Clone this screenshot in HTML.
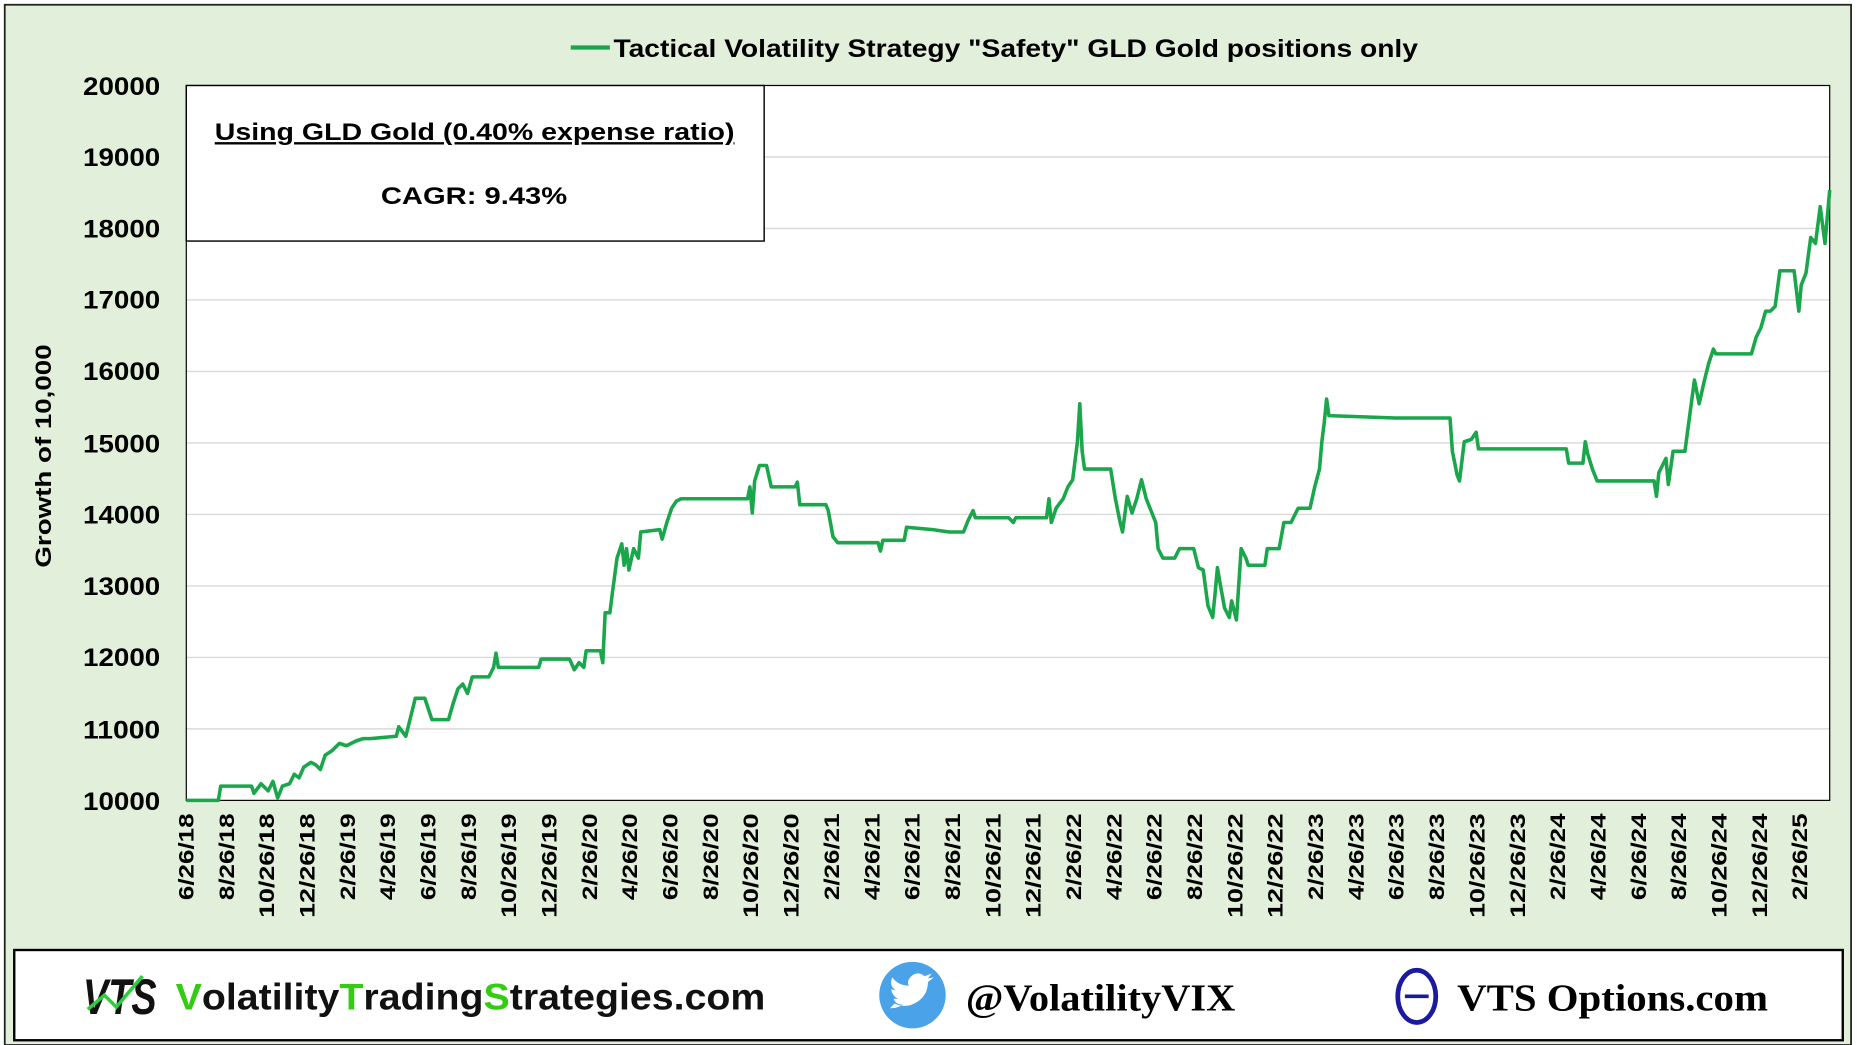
<!DOCTYPE html>
<html><head><meta charset="utf-8"><style>
html,body{margin:0;padding:0;background:#fff}
svg{display:block}
text{font-family:"Liberation Sans",Arial,sans-serif;font-weight:bold}
</style></head><body>
<svg width="1857" height="1045" viewBox="0 0 1565 880" preserveAspectRatio="none" xmlns="http://www.w3.org/2000/svg">
<rect x="0" y="0" width="1565" height="880" fill="#fff"/>
<rect x="4" y="4" width="1556" height="876" fill="#e2efda" stroke="#222" stroke-width="1.5"/>
<rect x="157" y="72" width="1385" height="602" fill="#fff"/>
<g stroke="#d9d9d9" stroke-width="1.2">
<line x1="157" x2="1542" y1="132.2" y2="132.2"/><line x1="157" x2="1542" y1="192.4" y2="192.4"/>
<line x1="157" x2="1542" y1="252.6" y2="252.6"/><line x1="157" x2="1542" y1="312.8" y2="312.8"/>
<line x1="157" x2="1542" y1="373" y2="373"/><line x1="157" x2="1542" y1="433.2" y2="433.2"/>
<line x1="157" x2="1542" y1="493.4" y2="493.4"/><line x1="157" x2="1542" y1="553.6" y2="553.6"/>
<line x1="157" x2="1542" y1="613.8" y2="613.8"/>
</g>
<rect x="157" y="72" width="1385" height="602" fill="none" stroke="#000" stroke-width="1"/>
<g font-size="21" fill="#000">
<text x="70" y="80" textLength="65" lengthAdjust="spacingAndGlyphs">20000</text><text x="70" y="140" textLength="65" lengthAdjust="spacingAndGlyphs">19000</text><text x="70" y="200" textLength="65" lengthAdjust="spacingAndGlyphs">18000</text>
<text x="70" y="260" textLength="65" lengthAdjust="spacingAndGlyphs">17000</text><text x="70" y="320" textLength="65" lengthAdjust="spacingAndGlyphs">16000</text><text x="70" y="381" textLength="65" lengthAdjust="spacingAndGlyphs">15000</text>
<text x="70" y="441" textLength="65" lengthAdjust="spacingAndGlyphs">14000</text><text x="70" y="501" textLength="65" lengthAdjust="spacingAndGlyphs">13000</text><text x="70" y="561" textLength="65" lengthAdjust="spacingAndGlyphs">12000</text>
<text x="70" y="622" textLength="65" lengthAdjust="spacingAndGlyphs">11000</text><text x="70" y="682" textLength="65" lengthAdjust="spacingAndGlyphs">10000</text>
</g>
<text transform="translate(43,478) rotate(-90)" font-size="19" textLength="188" lengthAdjust="spacingAndGlyphs">Growth of 10,000</text>
<polyline fill="none" stroke="#1aa64a" stroke-width="3" stroke-linejoin="round" points="157,674 184,674 186,662 212,662 214,668 220,660 226,666 230,658 234,672 238,662 244,660 248,652 252,655 256,646 262,642 266,644 270,648 274,636 280,632 286,626 292,628 300,624 306,622 312,622 334,620 336,612 342,620 346,604 350,588 358,588 362,600 364,606 378,606 382,592 386,580 390,576 394,584 398,570 412,570 416,562 418,550 420,562 454,562 456,555 480,555 484,564 488,558 492,562 494,548 506,548 508,558 510,516 514,516 516,500 520,470 524,458 526,476 528,462 530,480 534,462 538,470 540,448 556,446 558,454 562,440 566,428 570,422 574,420 630,420 632,410 634,432 636,405 640,392 646,392 650,410 670,410 672,406 674,425 696,425 698,430 702,452 706,457 740,457 742,464 744,455 762,455 764,444 786,446 800,448 812,448 816,438 820,430 822,436 850,436 854,440 856,436 882,436 884,420 886,440 890,428 896,420 900,410 904,404 908,372 910,340 912,380 914,395 936,395 940,420 944,440 946,448 950,418 954,432 958,420 962,404 966,420 970,430 974,440 976,462 980,470 990,470 994,462 1006,462 1010,478 1014,480 1018,510 1022,520 1024,500 1026,478 1028,490 1032,512 1036,520 1038,506 1042,522 1046,462 1050,470 1052,476 1066,476 1068,462 1078,462 1082,440 1088,440 1094,428 1104,428 1108,410 1112,395 1114,372 1116,356 1118,336 1120,350 1176,352 1200,352 1222,352 1224,380 1228,400 1230,405 1234,372 1240,370 1244,364 1246,378 1320,378 1322,390 1334,390 1336,372 1338,382 1342,395 1346,405 1394,405 1396,418 1398,398 1404,386 1406,408 1410,380 1420,380 1424,350 1428,320 1432,340 1436,322 1440,306 1444,294 1446,298 1476,298 1480,284 1484,276 1488,262 1492,262 1496,258 1500,228 1512,228 1516,262 1518,240 1522,230 1526,200 1530,205 1534,174 1538,205 1542,160"/>
<rect x="157" y="72" width="487" height="131" fill="#fff" stroke="#000" stroke-width="1.2"/>
<text x="181" y="118" font-size="20" text-decoration="underline" textLength="438" lengthAdjust="spacingAndGlyphs">Using GLD Gold  (0.40% expense ratio)</text>
<text x="321" y="172" font-size="20" textLength="157" lengthAdjust="spacingAndGlyphs">CAGR:  9.43%</text>
<line x1="481" x2="514" y1="40" y2="40" stroke="#1aa64a" stroke-width="3.5"/>
<text x="517" y="48" font-size="21" textLength="678" lengthAdjust="spacingAndGlyphs">Tactical Volatility Strategy "Safety" GLD Gold positions only</text>
<rect x="12" y="800" width="1541" height="76" fill="#fff" stroke="#000" stroke-width="2"/>
<text x="70" y="854" font-size="42" font-style="italic" fill="#111" textLength="62" lengthAdjust="spacingAndGlyphs">VTS</text>
<polyline points="74,850 88,838 98,848 120,822" fill="none" stroke="#2ecc40" stroke-width="3"/>
<text x="148" y="850" font-size="31" fill="#111" textLength="497" lengthAdjust="spacingAndGlyphs"><tspan fill="#33cc11">V</tspan>olatility<tspan fill="#33cc11">T</tspan>rading<tspan fill="#33cc11">S</tspan>trategies.com</text>
<circle cx="769" cy="838" r="28" fill="#4aa3e8"/>
<path d="M754,845 q10,5 20,-2 q8,-6 8,-16 l5,-4 l-5,1 l3,-4 l-6,2 q-6,-5 -12,1 q-3,4 -1,7 q-9,0 -14,-7 q-3,7 3,11 l-4,-1 q1,6 6,8 l-4,0 q2,5 8,5 q-4,3 -11,3z" fill="#fff"/>
<text x="814" y="851" font-size="32" style="font-family:'Liberation Serif',serif" textLength="227" lengthAdjust="spacingAndGlyphs">@VolatilityVIX</text>
<ellipse cx="1194" cy="839" rx="16" ry="22" fill="none" stroke="#1a1aa0" stroke-width="4"/>
<line x1="1184" x2="1204" y1="839" y2="839" stroke="#1a1aa0" stroke-width="3"/>
<text x="1228" y="851" font-size="32" style="font-family:'Liberation Serif',serif" textLength="262" lengthAdjust="spacingAndGlyphs">VTS Options.com</text>
<g font-size="18" text-anchor="end">
<text transform="translate(163,685) rotate(-90)" textLength="73" lengthAdjust="spacingAndGlyphs">6/26/18</text>
<text transform="translate(197,685) rotate(-90)" textLength="73" lengthAdjust="spacingAndGlyphs">8/26/18</text>
<text transform="translate(231,685) rotate(-90)" textLength="88" lengthAdjust="spacingAndGlyphs">10/26/18</text>
<text transform="translate(265,685) rotate(-90)" textLength="88" lengthAdjust="spacingAndGlyphs">12/26/18</text>
<text transform="translate(299,685) rotate(-90)" textLength="73" lengthAdjust="spacingAndGlyphs">2/26/19</text>
<text transform="translate(333,685) rotate(-90)" textLength="73" lengthAdjust="spacingAndGlyphs">4/26/19</text>
<text transform="translate(367,685) rotate(-90)" textLength="73" lengthAdjust="spacingAndGlyphs">6/26/19</text>
<text transform="translate(401,685) rotate(-90)" textLength="73" lengthAdjust="spacingAndGlyphs">8/26/19</text>
<text transform="translate(435,685) rotate(-90)" textLength="88" lengthAdjust="spacingAndGlyphs">10/26/19</text>
<text transform="translate(469,685) rotate(-90)" textLength="88" lengthAdjust="spacingAndGlyphs">12/26/19</text>
<text transform="translate(503,685) rotate(-90)" textLength="73" lengthAdjust="spacingAndGlyphs">2/26/20</text>
<text transform="translate(537,685) rotate(-90)" textLength="73" lengthAdjust="spacingAndGlyphs">4/26/20</text>
<text transform="translate(571,685) rotate(-90)" textLength="73" lengthAdjust="spacingAndGlyphs">6/26/20</text>
<text transform="translate(605,685) rotate(-90)" textLength="73" lengthAdjust="spacingAndGlyphs">8/26/20</text>
<text transform="translate(639,685) rotate(-90)" textLength="88" lengthAdjust="spacingAndGlyphs">10/26/20</text>
<text transform="translate(673,685) rotate(-90)" textLength="88" lengthAdjust="spacingAndGlyphs">12/26/20</text>
<text transform="translate(707,685) rotate(-90)" textLength="73" lengthAdjust="spacingAndGlyphs">2/26/21</text>
<text transform="translate(741,685) rotate(-90)" textLength="73" lengthAdjust="spacingAndGlyphs">4/26/21</text>
<text transform="translate(775,685) rotate(-90)" textLength="73" lengthAdjust="spacingAndGlyphs">6/26/21</text>
<text transform="translate(809,685) rotate(-90)" textLength="73" lengthAdjust="spacingAndGlyphs">8/26/21</text>
<text transform="translate(843,685) rotate(-90)" textLength="88" lengthAdjust="spacingAndGlyphs">10/26/21</text>
<text transform="translate(877,685) rotate(-90)" textLength="88" lengthAdjust="spacingAndGlyphs">12/26/21</text>
<text transform="translate(911,685) rotate(-90)" textLength="73" lengthAdjust="spacingAndGlyphs">2/26/22</text>
<text transform="translate(945,685) rotate(-90)" textLength="73" lengthAdjust="spacingAndGlyphs">4/26/22</text>
<text transform="translate(979,685) rotate(-90)" textLength="73" lengthAdjust="spacingAndGlyphs">6/26/22</text>
<text transform="translate(1013,685) rotate(-90)" textLength="73" lengthAdjust="spacingAndGlyphs">8/26/22</text>
<text transform="translate(1047,685) rotate(-90)" textLength="88" lengthAdjust="spacingAndGlyphs">10/26/22</text>
<text transform="translate(1081,685) rotate(-90)" textLength="88" lengthAdjust="spacingAndGlyphs">12/26/22</text>
<text transform="translate(1115,685) rotate(-90)" textLength="73" lengthAdjust="spacingAndGlyphs">2/26/23</text>
<text transform="translate(1149,685) rotate(-90)" textLength="73" lengthAdjust="spacingAndGlyphs">4/26/23</text>
<text transform="translate(1183,685) rotate(-90)" textLength="73" lengthAdjust="spacingAndGlyphs">6/26/23</text>
<text transform="translate(1217,685) rotate(-90)" textLength="73" lengthAdjust="spacingAndGlyphs">8/26/23</text>
<text transform="translate(1251,685) rotate(-90)" textLength="88" lengthAdjust="spacingAndGlyphs">10/26/23</text>
<text transform="translate(1285,685) rotate(-90)" textLength="88" lengthAdjust="spacingAndGlyphs">12/26/23</text>
<text transform="translate(1319,685) rotate(-90)" textLength="73" lengthAdjust="spacingAndGlyphs">2/26/24</text>
<text transform="translate(1353,685) rotate(-90)" textLength="73" lengthAdjust="spacingAndGlyphs">4/26/24</text>
<text transform="translate(1387,685) rotate(-90)" textLength="73" lengthAdjust="spacingAndGlyphs">6/26/24</text>
<text transform="translate(1421,685) rotate(-90)" textLength="73" lengthAdjust="spacingAndGlyphs">8/26/24</text>
<text transform="translate(1455,685) rotate(-90)" textLength="88" lengthAdjust="spacingAndGlyphs">10/26/24</text>
<text transform="translate(1489,685) rotate(-90)" textLength="88" lengthAdjust="spacingAndGlyphs">12/26/24</text>
<text transform="translate(1523,685) rotate(-90)" textLength="73" lengthAdjust="spacingAndGlyphs">2/26/25</text>
</g>
</svg>
</body></html>
